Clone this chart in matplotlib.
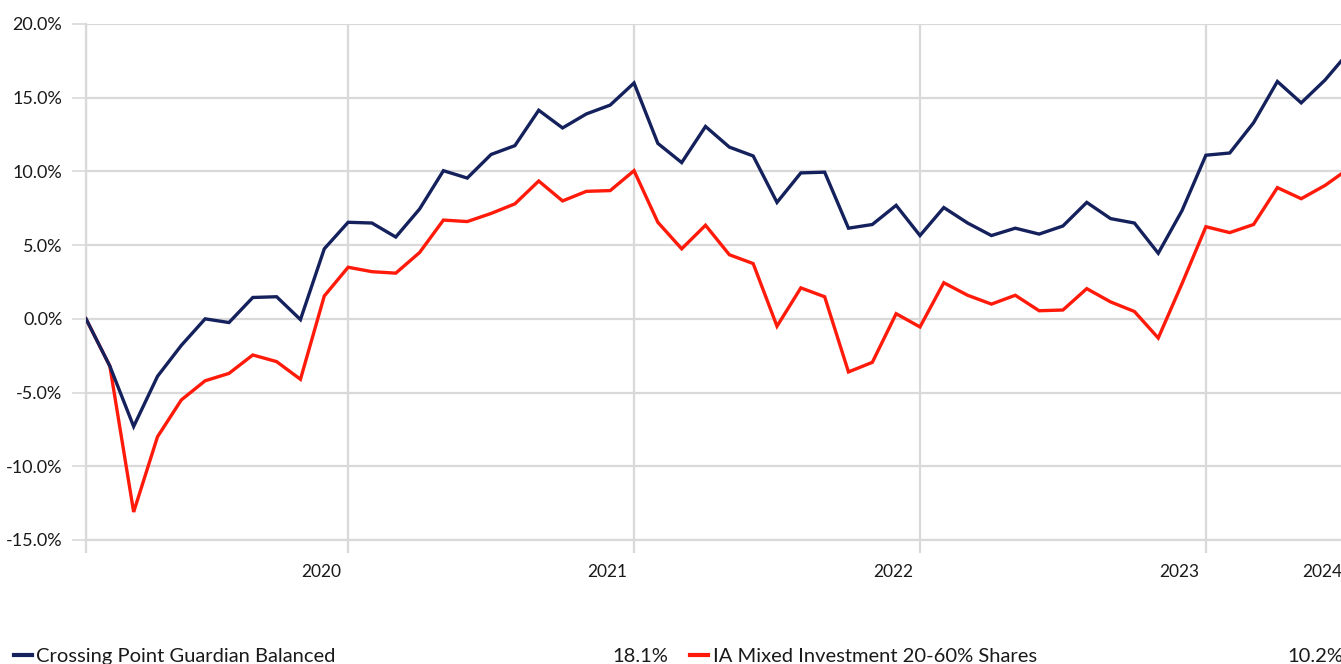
import numpy as np
import pandas as pd
import matplotlib
matplotlib.use("Agg")
import matplotlib.pyplot as plt
from matplotlib.ticker import FuncFormatter, FixedLocator

# monthly cumulative performance (%)
months = pd.date_range("2019-02-01", periods=54, freq="MS")
guardian = [0.0, -3.2, -7.3, -3.9, -1.8, 0.0, -0.25, 1.45, 1.5, -0.05,
            4.75, 6.55, 6.5, 5.55, 7.45, 10.05, 9.55, 11.15, 11.75, 14.15,
            12.95, 13.9, 14.5, 16.0, 11.9, 10.6, 13.05, 11.65, 11.05, 7.9,
            9.9, 9.95, 6.15, 6.4, 7.7, 5.65, 7.55, 6.5, 5.65, 6.15,
            5.75, 6.3, 7.9, 6.8, 6.5, 4.45, 7.35, 11.1, 11.25, 13.3,
            16.1, 14.65, 16.2, 18.1]
ia_mixed = [0.0, -3.2, -13.1, -8.0, -5.5, -4.2, -3.7, -2.45, -2.9, -4.1,
            1.55, 3.5, 3.2, 3.1, 4.5, 6.7, 6.6, 7.15, 7.8, 9.35,
            8.0, 8.65, 8.7, 10.05, 6.55, 4.75, 6.35, 4.35, 3.75, -0.5,
            2.1, 1.5, -3.6, -2.95, 0.35, -0.55, 2.45, 1.6, 1.0, 1.6,
            0.55, 0.6, 2.05, 1.15, 0.5, -1.3, 2.4, 6.25, 5.85, 6.4,
            8.9, 8.15, 9.05, 10.2]
series_names = ["Crossing Point Guardian Balanced", "IA Mixed Investment 20-60% Shares"]
final_returns = ["18.1%", "10.2%"]

NAVY = "#14215c"
RED = "#ff1a0a"
GRID = "#d9d9d9"
plt.rcParams["font.family"] = ["Lato", "DejaVu Sans"]

W, H = 1341, 664
fig = plt.figure(figsize=(W / 100, H / 100), dpi=100)
ax = fig.add_axes([86 / W, 1 - 540 / H, (W - 86) / W, (540 - 24) / H])

x = np.arange(len(months))
ax.plot(x, ia_mixed, color=RED, lw=2.4, solid_joinstyle="miter", zorder=3)
ax.plot(x, guardian, color=NAVY, lw=2.4, solid_joinstyle="miter", zorder=4)

ax.set_xlim(0, 52.67)
ax.set_ylim(-15, 20)

# y axis
ax.set_yticks(np.arange(-15, 21, 5))
ax.yaxis.set_major_formatter(FuncFormatter(lambda v, p: f"{v:.1f}%"))
ax.tick_params(axis="y", length=10, width=1.2, color=GRID, pad=7,
               labelsize=13, labelcolor="#1a1a1a")
ax.grid(axis="y", color=GRID, lw=1.6)

# x axis: gridlines at each January, labels sit just left of them
year_idx = [i for i, m in enumerate(months) if m.month == 1]
ax.xaxis.set_major_locator(FixedLocator([0] + year_idx))
ax.set_xticklabels([""] * (len(year_idx) + 1))
ax.tick_params(axis="x", length=9.5, width=1.6, color=GRID)
ax.grid(axis="x", color=GRID, lw=1.6)
for i in year_idx:
    ax.annotate(str(months[i].year), (i, 0), xycoords=("data", "axes fraction"),
                xytext=(-5, -17), textcoords="offset points",
                ha="right", va="top", fontsize=12.5, color="#1a1a1a")
ax.annotate(str(months[-1].year + 1), (1, 0), xycoords="axes fraction",
            xytext=(1, -17), textcoords="offset points",
            ha="right", va="top", fontsize=12.5, color="#1a1a1a")

for side in ["top", "right"]:
    ax.spines[side].set_visible(False)
for side in ["left", "bottom"]:
    ax.spines[side].set_color(GRID)
    ax.spines[side].set_linewidth(1.6)

# legend row along the bottom edge
ly = 1 - 662 / H
fig.add_artist(plt.Line2D([14 / W, 32 / W], [1 - 655 / H] * 2, color=NAVY, lw=3))
fig.text(36 / W, ly, series_names[0], fontsize=14.5, va="baseline", color="#1a1a1a")
fig.text(668 / W, ly, final_returns[0], fontsize=14.5, va="baseline", ha="right", color="#1a1a1a")
fig.add_artist(plt.Line2D([690 / W, 708 / W], [1 - 655 / H] * 2, color=RED, lw=3))
fig.text(713 / W, ly, series_names[1], fontsize=14.5, va="baseline", color="#1a1a1a")
fig.text(1343 / W, ly, final_returns[1], fontsize=14.5, va="baseline", ha="right", color="#1a1a1a")

fig.savefig("out.png", dpi=100)
